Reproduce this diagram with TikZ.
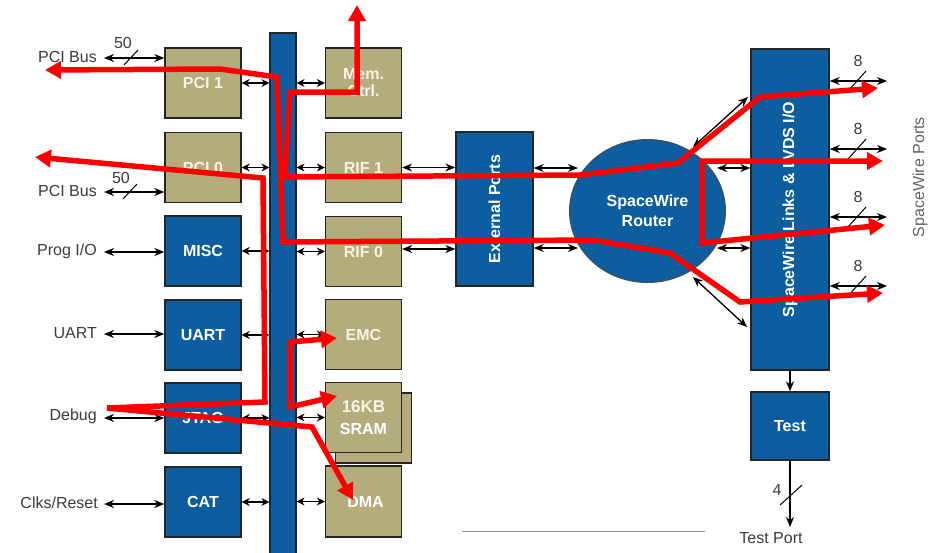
\documentclass[tikz,border=0pt]{standalone}
\usepackage{fontspec}
\setmainfont{Liberation Sans}
\usetikzlibrary{arrows.meta,shapes.geometric,calc}
\definecolor{bblue}{RGB}{12,94,160}
\definecolor{khaki}{RGB}{180,172,124}
\definecolor{lbl}{RGB}{60,60,60}
\definecolor{kt}{RGB}{248,244,228}
\begin{document}
\begin{tikzpicture}[x=1pt,y=-1pt,
  box/.style={draw=black!85,line width=1.4pt,minimum width=76pt,minimum height=70pt,inner sep=0pt,
    font=\bfseries\fontsize{16}{18}\selectfont,align=center},
  bluebox/.style={box,fill=bblue,text=white},
  khakibox/.style={box,fill=khaki,text=kt},
  sdbl/.style={line width=1.2pt,{Stealth[length=8pt,width=8pt]}-{Stealth[length=8pt,width=8pt]}},
  ldbl/.style={line width=1.3pt,{Stealth[length=10pt,width=8pt]}-{Stealth[length=10pt,width=8pt]}},
  sarr/.style={line width=1.3pt,-{Stealth[length=10pt,width=8pt]}},
  slash/.style={line width=1pt},
  olbl/.style={text=lbl,font=\fontsize{16}{19}\selectfont,inner sep=0pt},
  numlbl/.style={text=lbl,font=\fontsize{16}{18}\selectfont,inner sep=0pt},
  redp/.style={draw=red,line width=5.5pt,line join=miter},
  rhead/.style={-{Triangle[length=16pt,width=17pt]}},
  rheads/.style={{Triangle[length=16pt,width=17pt]}-{Triangle[length=16pt,width=17pt]}}
]
\useasboundingbox (0,0) rectangle (928,552);
\fill[white] (0,0) rectangle (928,552);

% bus bar
\node[draw=black!85,line width=1.2pt,fill=bblue,minimum width=26pt,minimum height=521pt,inner sep=0pt] (bus) at (283,293.5) {};

% left column
\node[khakibox] (pci1) at (203,83) {PCI 1};
\node[khakibox] (pci0) at (203,167.5) {PCI 0};
\node[bluebox] (misc) at (203,251) {MISC};
\node[bluebox] (uart) at (203,335) {UART};
\node[bluebox] (jtag) at (203,418) {JTAG};
\node[bluebox] (cat) at (203,502) {CAT};

% middle column
\node[khakibox] (mem) at (363.5,83) {Mem.\\[-1pt]Ctrl.};
\node[khakibox] (rif1) at (363.5,167.5) {RIF 1};
\node[khakibox] (rif0) at (363.5,251.5) {RIF 0};
\node[khakibox] (emc) at (363.5,334.5) {EMC};
\node[khakibox] (sramb) at (373.5,428) {};
\node[khakibox] (sram) at (363.5,417.5) {{\fontsize{17}{19}\selectfont 16KB}\\[4pt]{\color{white}SRAM}};
\node[khakibox,minimum height=71pt] (dma) at (363.5,501.5) {\color{white}\hspace*{4pt}DMA};

% right part
\node[bluebox,minimum width=77pt,minimum height=154pt] (ext) at (494.5,209) {\rotatebox{90}{External Ports}};
\node[draw=black!70,line width=1pt,fill=bblue,ellipse,minimum width=156pt,minimum height=143pt,inner sep=0pt,
  text=white,font=\bfseries\fontsize{16}{20}\selectfont,align=center] (router) at (647.5,211) {SpaceWire\\Router};
\node[bluebox,minimum width=78pt,minimum height=321pt] (links) at (790,209.5) {\rotatebox{90}{SpaceWire Links \& LVDS I/O}};
\node[bluebox,minimum width=78pt,minimum height=68pt] (test) at (790,426) {Test};

% bus connections
\foreach \n in {pci1,pci0,misc,uart,jtag,cat}{
  \draw[sdbl] (\n.east) -- (\n.east -| bus.west);
}
\foreach \n in {mem,rif1,rif0,emc,sram,dma}{
  \draw[sdbl] (\n.west -| bus.east) -- (\n.west);
}
\draw[ldbl] (rif1.east) -- (rif1.east -| ext.west);
\draw[ldbl] (rif0.east |- 0,249) -- (ext.west |- 0,249);
\coordinate (ra1) at (578,168);
\coordinate (ra0) at (578,248);
\draw[ldbl] (ext.east |- ra1) -- (ra1);
\draw[ldbl] (ext.east |- ra0) -- (ra0);
\coordinate (rb1) at (717,168);
\coordinate (rb0) at (717,248);
\draw[ldbl] (rb1) -- (links.west |- rb1);
\draw[ldbl] (rb0) -- (links.west |- rb0);
\coordinate (du1) at (693,147); \coordinate (du2) at (748,97);
\coordinate (dd1) at (693,277); \coordinate (dd2) at (747,327);
\draw[ldbl] (du1) -- (du2);
\draw[ldbl] (dd1) -- (dd2);

% left external signals
\node[olbl,anchor=east] (lpci1) at (97,57) {PCI Bus};
\node[olbl,anchor=east] (lpci0) at (97,191) {PCI Bus};
\node[olbl,anchor=east] (lprog) at (97,251) {Prog I/O};
\node[olbl,anchor=east] (luart) at (97,333) {UART};
\node[olbl,anchor=east] (ldebug) at (97,416) {Debug};
\node[olbl,anchor=east] (lclk) at (98,503) {Clks/Reset};
\foreach \y/\n in {58/a,192/b,252/c,334/d,418/e,504/f}{
  \coordinate (le\n) at (104,\y);
  \draw[ldbl] (le\n) -- (pci1.west |- le\n);
}
\draw[slash] (124,65) -- (138,50);
\node[numlbl] (n50a) at (123,43) {50};
\draw[slash] (123,199) -- (137,184);
\node[numlbl] (n50b) at (121,178) {50};

% SpaceWire ports
\foreach \y/\n in {81/1,149/2,217/3,286/4}{
  \coordinate (po\n) at (887,\y);
  \draw[ldbl] (links.east |- po\n) -- (po\n);
  \draw[slash] ($(857,\y)+(-9,10)$) -- ($(857,\y)+(9,-10)$);
  \node[numlbl] (e\n) at (858,\y-20) {8};
}
\node[olbl,rotate=90,text=lbl!80] (swp) at (920,177) {SpaceWire Ports};

% test
\draw[sarr] (links.south) -- (test.north);
\coordinate (tp) at (790,527);
\draw[sarr] (test.south) -- (tp);
\draw[slash] (780,505) -- (802,485);
\node[numlbl] (n4) at (777,490) {4};
\node[olbl] (ltp) at (771,538) {Test Port};
\coordinate (g1) at (462,531); \coordinate (g2) at (705,531);
\draw[black!45,line width=0.6pt] (g1) -- (g2);

% red data paths
\coordinate (dbg) at (107,408);
\draw[redp,rheads] (45,70) -- (220,69) -- (277,77) -- (283,242) -- (593,240) -- (670,253) -- (740,302) -- (883,293);
\draw[redp,rhead] (dbg) -- (265,402) -- (263,178) -- (35,157);
\draw[redp,rheads] (337,338) -- (290,342) -- (290,407) -- (337,396);
\draw[redp,rheads] (357,5) -- (357,92) -- (290,92) -- (285,177) -- (580,175) -- (678,163) -- (760,97) -- (878,88);
\draw[redp,rheads] (883,161) -- (702,161) -- (702,243) -- (885,225);
\draw[redp,rhead] (dbg) -- (312,427) -- (353,500);
\end{tikzpicture}
\end{document}
